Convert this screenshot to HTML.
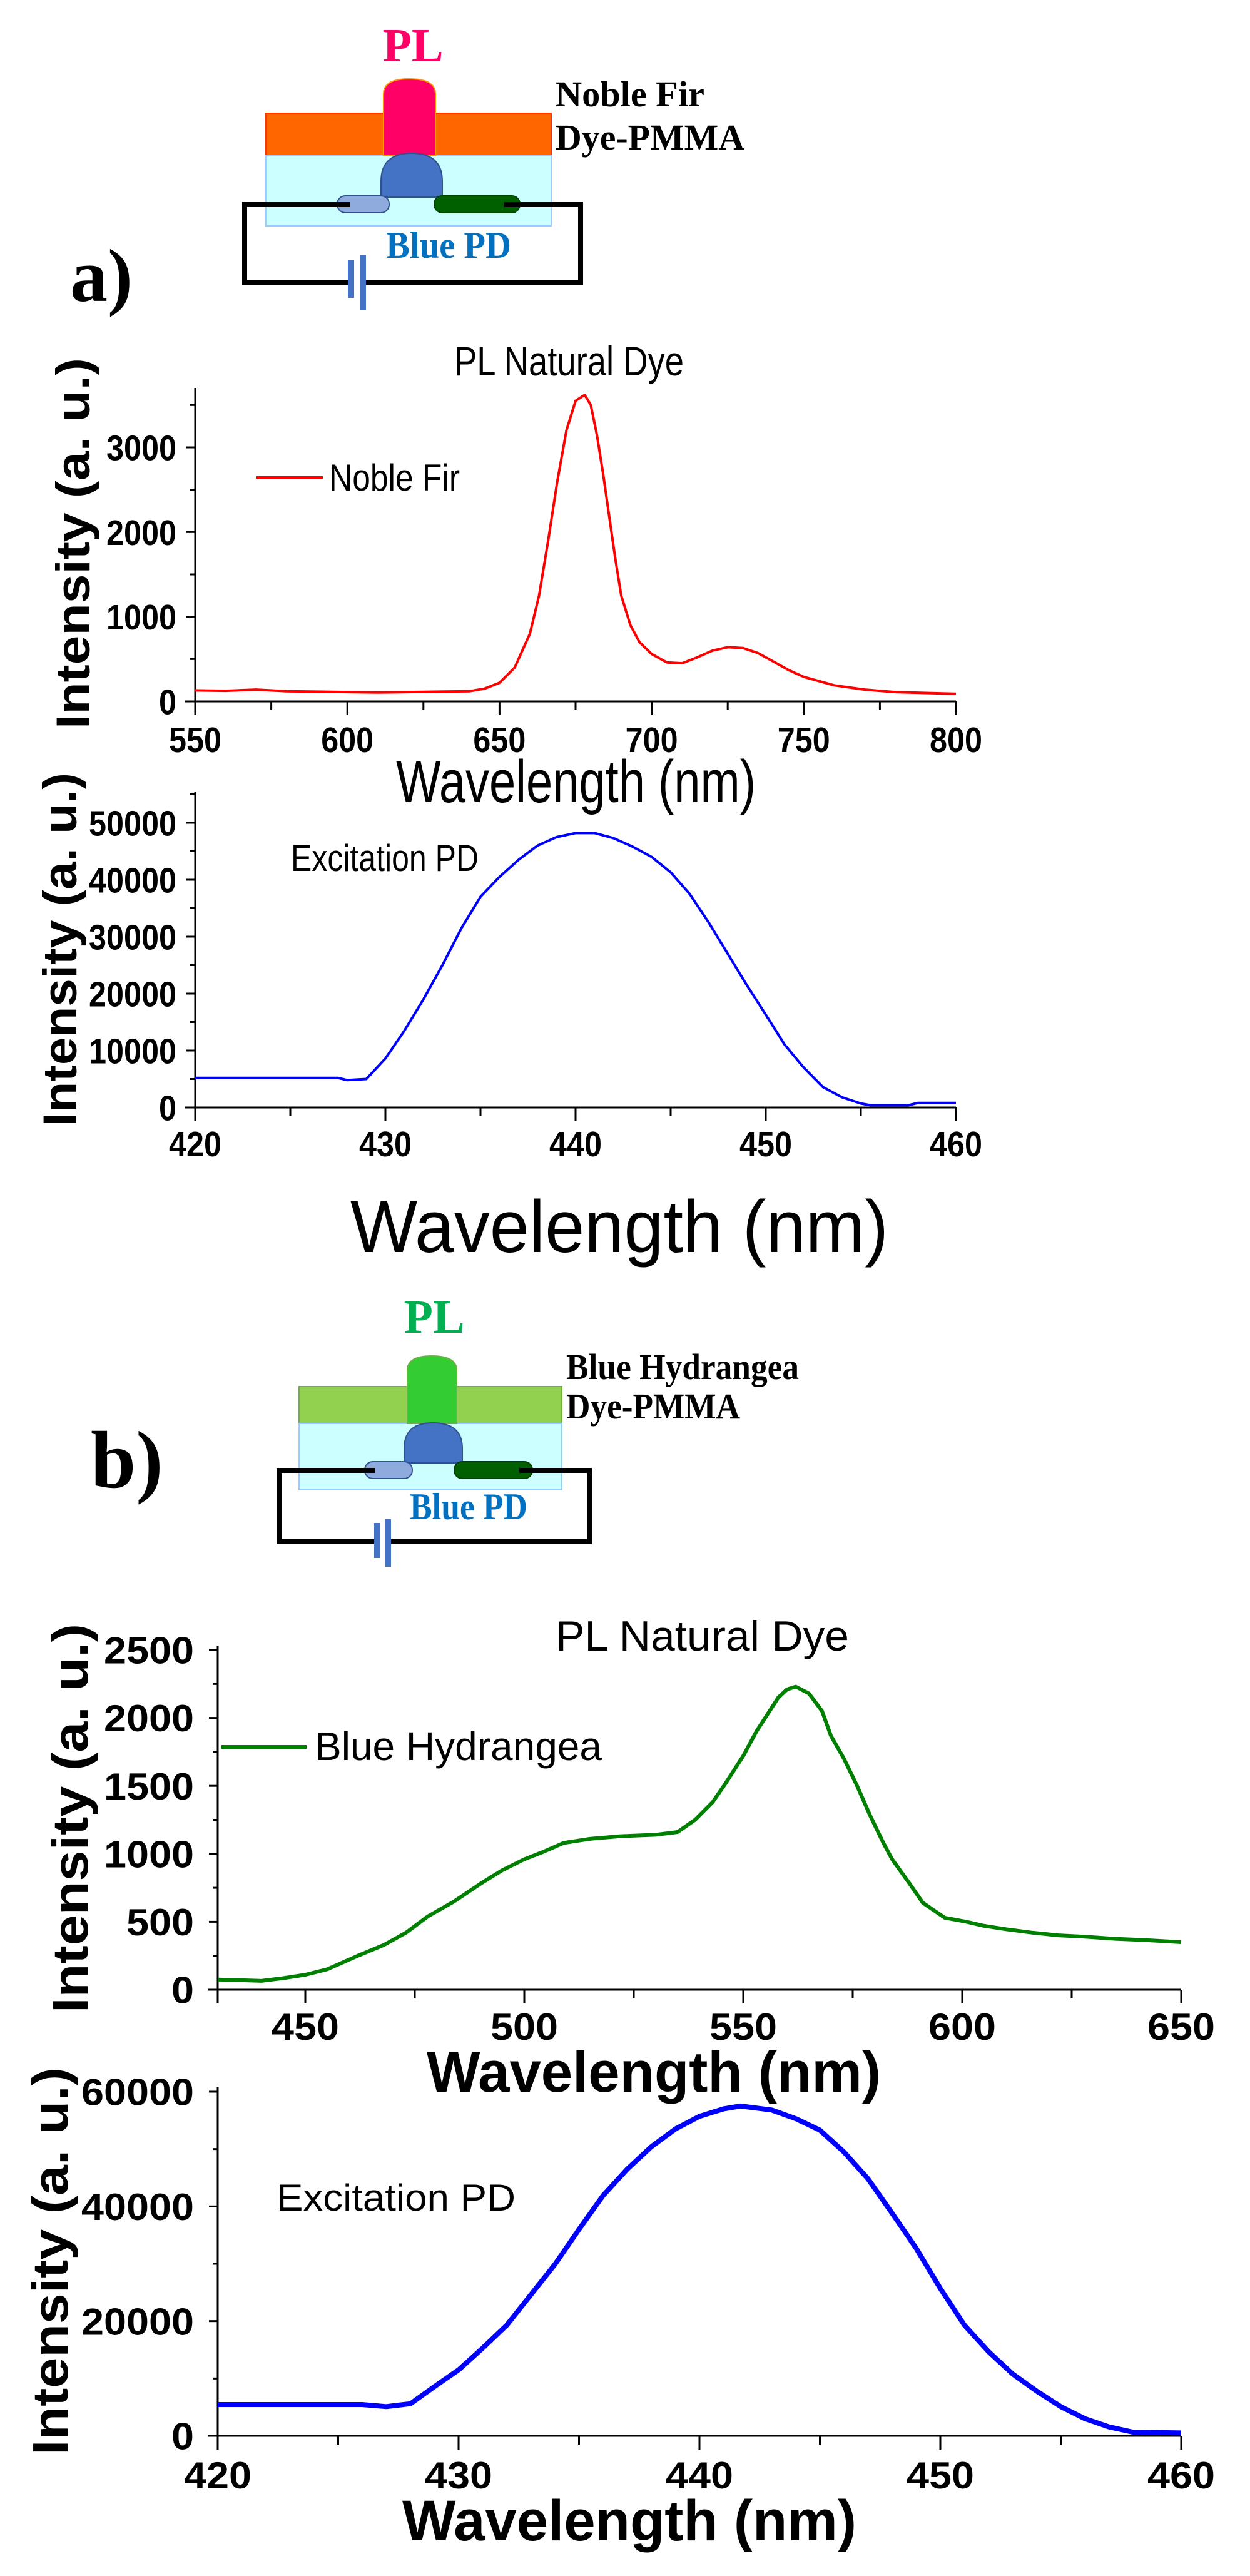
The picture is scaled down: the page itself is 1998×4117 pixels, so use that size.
<!DOCTYPE html>
<html><head><meta charset="utf-8"><style>
html,body{margin:0;padding:0;background:#fff;}
svg{display:block;}
text{font-family:"Liberation Sans",Arial,sans-serif;}
.tm{font-family:"Liberation Serif","Times New Roman",serif;font-weight:bold;}
</style></head><body>
<svg id="fig" width="1998" height="4117" viewBox="0 0 1998 4117" xmlns="http://www.w3.org/2000/svg">
<rect width="1998" height="4117" fill="#fff"/>
<g>
  <text class="tm" x="660" y="98" font-size="76" fill="#ff0066" text-anchor="middle">PL</text>
  <rect x="425" y="181" width="456" height="68" fill="#ff6600" stroke="#ff3300" stroke-width="2"/>
  <rect x="425" y="249" width="456" height="112" fill="#ccffff" stroke="#99ccff" stroke-width="2"/>
  <path d="M613 249 L613 150 Q613 126 654 126 Q696 126 696 150 L696 249 Z" fill="#ff0066" stroke="#ff9900" stroke-width="2"/>
  <path d="M609 315 L609 290 Q609 245 658 245 Q707 245 707 290 L707 315 Z" fill="#4472c4" stroke="#2f528f" stroke-width="2"/>
  <rect x="539" y="313" width="83" height="27" rx="13" fill="#8faadc" stroke="#2f528f" stroke-width="2"/>
  <rect x="694" y="313" width="137" height="27" rx="13" fill="#006000" stroke="#004000" stroke-width="2"/>
  <path d="M560 327 L391 327 L391 452 L928 452 L928 327 L805 327" fill="none" stroke="#000" stroke-width="8"/>
  <rect x="556" y="416" width="10" height="60" fill="#4472c4"/>
  <rect x="575" y="408" width="10" height="88" fill="#4472c4"/>
  <rect x="566" y="440" width="9" height="16" fill="#fff"/>
  <text class="tm" x="617" y="412" font-size="60" fill="#0070c0" textLength="200" lengthAdjust="spacingAndGlyphs">Blue PD</text>
  <text class="tm" x="888" y="170" font-size="58" fill="#000" textLength="238" lengthAdjust="spacingAndGlyphs">Noble Fir</text>
  <text class="tm" x="888" y="239" font-size="58" fill="#000" textLength="302" lengthAdjust="spacingAndGlyphs">Dye-PMMA</text>
  <text class="tm" x="112" y="481" font-size="120" fill="#000">a)</text>
</g>
<g>
  <text class="tm" x="694" y="2130" font-size="76" fill="#00b050" text-anchor="middle">PL</text>
  <rect x="478" y="2216" width="420" height="59" fill="#92d050" stroke="#70ad47" stroke-width="2"/>
  <rect x="478" y="2275" width="420" height="106" fill="#ccffff" stroke="#99ccff" stroke-width="2"/>
  <path d="M651 2275 L651 2190 Q651 2167 690 2167 Q730 2167 730 2190 L730 2275 Z" fill="#33cc33" stroke="#70ad47" stroke-width="2"/>
  <path d="M646 2338 L646 2315 Q646 2274 692 2274 Q739 2274 739 2315 L739 2338 Z" fill="#4472c4" stroke="#2f528f" stroke-width="2"/>
  <rect x="583" y="2336" width="76" height="27" rx="13" fill="#8faadc" stroke="#2f528f" stroke-width="2"/>
  <rect x="726" y="2336" width="125" height="27" rx="13" fill="#006000" stroke="#004000" stroke-width="2"/>
  <path d="M600 2350 L446 2350 L446 2464 L942 2464 L942 2350 L830 2350" fill="none" stroke="#000" stroke-width="8"/>
  <rect x="598" y="2434" width="10" height="56" fill="#4472c4"/>
  <rect x="615" y="2428" width="10" height="76" fill="#4472c4"/>
  <rect x="608" y="2452" width="7" height="16" fill="#fff"/>
  <text class="tm" x="655" y="2428" font-size="60" fill="#0070c0" textLength="188" lengthAdjust="spacingAndGlyphs">Blue PD</text>
  <text class="tm" x="905" y="2204" font-size="58" fill="#000" textLength="372" lengthAdjust="spacingAndGlyphs">Blue Hydrangea</text>
  <text class="tm" x="905" y="2267" font-size="58" fill="#000" textLength="278" lengthAdjust="spacingAndGlyphs">Dye-PMMA</text>
  <text class="tm" x="145" y="2377" font-size="130" fill="#000">b)</text>
</g>
<g id="charts"></g>
</svg>
<script>
const firWavelength = [550,560,570,580,590,600,610,620,630,640,645,650,655,660,663,666,669,672,675,678,680,682,684,686,688,690,693,696,700,705,710,715,720,725,730,735,740,745,750,760,770,780,790,800];
const firIntensity  = [130,125,140,120,115,110,105,110,115,120,150,220,400,800,1250,1900,2600,3200,3550,3620,3500,3150,2700,2200,1700,1250,900,700,560,460,450,520,600,640,630,570,470,370,290,190,140,110,100,90];
const c1XTicks = [550,600,650,700,750,800];
const c1YTicks = [0,1000,2000,3000];
const exAWavelength = [420,427.5,428,429,430,431,432,433,434,435,436,437,438,439,440,441,442,443,444,445,446,447,448,449,450,451,452,453,454,455,455.5,457.5,458,460];
const exAIntensity  = [5200,5200,4800,5000,8600,13500,19000,25000,31500,37000,40500,43500,46000,47500,48200,48200,47300,45800,44000,41300,37500,32500,27000,21500,16300,11000,7000,3600,1800,700,400,400,800,800];
const c2XTicks = [420,430,440,450,460];
const c2YTicks = [0,10000,20000,30000,40000,50000];
const hydWavelength = [430,435,440,445,450,455,462,468,473,478,484,490,495,500,504,509,515,522,530,535,539,543,546,550,553,556,558,560,562,565,568,570,573,576,579,582,584,588,591,596,601,605,610,616,622,628,635,642,650];
const hydIntensity  = [75,70,65,85,110,150,250,330,420,540,650,780,880,960,1010,1080,1110,1130,1140,1160,1250,1380,1520,1720,1900,2050,2150,2210,2230,2180,2050,1870,1700,1500,1280,1080,960,780,640,530,500,470,445,420,400,390,375,365,350];
const c3XTicks = [450,500,550,600,650];
const c3YTicks = [0,500,1000,1500,2000,2500];
const exBWavelength = [420,426,427,428,429,430,431,432,433,434,435,436,437,438,439,440,441,441.7,443,444,445,446,447,448,449,450,451,452,453,454,455,456,457,458,460];
const exBIntensity  = [5450,5450,5100,5600,8600,11500,15300,19300,24600,29900,36000,41900,46500,50400,53500,55700,57000,57500,56800,55300,53300,49500,44800,38800,32700,25700,19300,14700,10800,7800,5100,3000,1560,640,500];
const c4XTicks = [420,430,440,450,460];
const c4YTicks = [0,20000,40000,60000];

const NS = "http://www.w3.org/2000/svg";
const root = document.getElementById('charts');
function mk(tag, attrs, parent) {
  const e = document.createElementNS(NS, tag);
  for (const k in attrs) e.setAttribute(k, attrs[k]);
  (parent || root).appendChild(e);
  return e;
}
function drawChart(cfg, xs, ys, xt, yt) {
  const g = mk('g', {});
  
  
  const sx = v => cfg.x0 + (v - cfg.xmin) / (cfg.xmax - cfg.xmin) * (cfg.x1 - cfg.x0);
  const sy = v => cfg.y0 - (v - cfg.ymin) / (cfg.ymax - cfg.ymin) * (cfg.y0 - cfg.y1);
  const xa = mk('line', {x1: cfg.x0 - 16, y1: cfg.y0, x2: cfg.x1, y2: cfg.y0, stroke: '#000', 'stroke-width': 3}, g);
  
  
  const ya = mk('line', {x1: cfg.x0, y1: cfg.y0 + 22, x2: cfg.x0, y2: cfg.top, stroke: '#000', 'stroke-width': 3}, g);
  
  
  const dx = xt[1] - xt[0];
  for (let i = 0; i < xt.length; i++) {
    const v = xt[i], px = sx(v);
    mk('line', {x1: px, y1: cfg.y0, x2: px, y2: cfg.y0 + 22, stroke: '#000', 'stroke-width': 3}, g);
    if (i < xt.length - 1) {
      const pm = sx(v + dx / 2);
      mk('line', {x1: pm, y1: cfg.y0, x2: pm, y2: cfg.y0 + 14, stroke: '#000', 'stroke-width': 3}, g);
    }
    const t = mk('text', {x: px, y: cfg.xlabY, 'font-size': cfg.tfs, 'font-weight': 'bold', 'text-anchor': 'middle', textLength: String(v).length * cfg.cw, lengthAdjust: 'spacingAndGlyphs'}, g);
    t.textContent = v;
    
    
  }
  if (cfg.xmin < xt[0]) {
    const pm = sx(xt[0] - dx / 2);
    if (pm > cfg.x0) mk('line', {x1: pm, y1: cfg.y0, x2: pm, y2: cfg.y0 + 14, stroke: '#000', 'stroke-width': 3}, g);
  }
  const dy = yt[1] - yt[0];
  for (let i = 0; i < yt.length; i++) {
    const v = yt[i], py = sy(v);
    mk('line', {x1: cfg.x0 - 14, y1: py, x2: cfg.x0, y2: py, stroke: '#000', 'stroke-width': 3}, g);
    const pm = sy(v + dy / 2);
    if (pm > cfg.top) mk('line', {x1: cfg.x0 - 8, y1: pm, x2: cfg.x0, y2: pm, stroke: '#000', 'stroke-width': 3}, g);
    const t = mk('text', {x: cfg.ylabX, y: py + cfg.tfs * 0.36, 'font-size': cfg.tfs, 'font-weight': 'bold', 'text-anchor': 'end', textLength: String(v).length * cfg.cw, lengthAdjust: 'spacingAndGlyphs'}, g);
    t.textContent = v;
    
    
  }
  let d = '';
  for (let i = 0; i < xs.length; i++) d += (i ? 'L' : 'M') + sx(xs[i]).toFixed(1) + ' ' + sy(ys[i]).toFixed(1);
  const p = mk('path', {d: d, fill: 'none', stroke: cfg.color, 'stroke-width': cfg.lw, 'stroke-linejoin': 'round'}, g);
  
  
  return g;
}
function label(txt, attrs, name) {
  const t = mk('text', attrs);
  t.textContent = txt;
  
  
  return t;
}

drawChart({name:'pl-noble-fir-chart', x0:312, x1:1528, xmin:550, xmax:800, y0:1121, y1:715, ymin:0, ymax:3000, top:620,
  xlabY:1202, ylabX:282, tfs:57, cw:28, color:'#ff0000', lw:4, seriesName:'noble-fir-line'}, firWavelength, firIntensity, c1XTicks, c1YTicks);
drawChart({name:'excitation-pd-chart-a', x0:312, x1:1528, xmin:420, xmax:460, y0:1770, y1:1315, ymin:0, ymax:50000, top:1266,
  xlabY:1848, ylabX:282, tfs:57, cw:28, color:'#0000ff', lw:4, seriesName:'excitation-line-a'}, exAWavelength, exAIntensity, c2XTicks, c2YTicks);
drawChart({name:'pl-blue-hydrangea-chart', x0:348, x1:1888, xmin:430, xmax:650, y0:3180, y1:2637, ymin:0, ymax:2500, top:2630,
  xlabY:3260, ylabX:310, tfs:60, cw:36, color:'#008000', lw:6, seriesName:'blue-hydrangea-line'}, hydWavelength, hydIntensity, c3XTicks, c3YTicks);
drawChart({name:'excitation-pd-chart-b', x0:348, x1:1888, xmin:420, xmax:460, y0:3893, y1:3343, ymin:0, ymax:60000, top:3335,
  xlabY:3977, ylabX:310, tfs:60, cw:36, color:'#0000ff', lw:8, seriesName:'excitation-line-b'}, exBWavelength, exBIntensity, c4XTicks, c4YTicks);

label('PL Natural Dye', {x:726, y:600, 'font-size':66, textLength:367, lengthAdjust:'spacingAndGlyphs'}, 'chart-title-a');
label('Wavelength (nm)', {x:633, y:1282, 'font-size':96, textLength:575, lengthAdjust:'spacingAndGlyphs'}, 'x-axis-title-a');
label('Intensity  (a. u.)', {x:0, y:0, 'font-size':76, 'font-weight':'bold', textLength:593, lengthAdjust:'spacingAndGlyphs', transform:'translate(143,1165) rotate(-90)'}, 'y-axis-title-a');
mk('line', {x1:409, y1:763, x2:516, y2:763, stroke:'#ff0000', 'stroke-width':4});
label('Noble Fir', {x:526, y:784, 'font-size':60, textLength:209, lengthAdjust:'spacingAndGlyphs'}, 'legend-entry-noble-fir');

label('Excitation PD', {x:465, y:1392, 'font-size':60, textLength:300, lengthAdjust:'spacingAndGlyphs'}, 'series-label-excitation-a');
label('Intensity  (a. u.)', {x:0, y:0, 'font-size':76, 'font-weight':'bold', textLength:565, lengthAdjust:'spacingAndGlyphs', transform:'translate(122,1800) rotate(-90)'}, 'y-axis-title-a2');
label('Wavelength (nm)', {x:560, y:2001, 'font-size':118, textLength:860, lengthAdjust:'spacingAndGlyphs', 'font-family':'"DejaVu Sans Condensed","Liberation Sans",sans-serif'}, 'x-axis-title-a2');

label('PL Natural Dye', {x:888, y:2638, 'font-size':68, textLength:469, lengthAdjust:'spacingAndGlyphs'}, 'chart-title-b');
mk('line', {x1:354, y1:2792, x2:490, y2:2792, stroke:'#008000', 'stroke-width':6});
label('Blue Hydrangea', {x:503, y:2813, 'font-size':64, textLength:459, lengthAdjust:'spacingAndGlyphs'}, 'legend-entry-blue-hydrangea');
label('Intensity (a. u.)', {x:0, y:0, 'font-size':80, 'font-weight':'bold', textLength:622, lengthAdjust:'spacingAndGlyphs', transform:'translate(140,3217) rotate(-90)'}, 'y-axis-title-b');
label('Wavelength (nm)', {x:682, y:3343, 'font-size':92, 'font-weight':'bold', textLength:726, lengthAdjust:'spacingAndGlyphs'}, 'x-axis-title-b');

label('Excitation PD', {x:442, y:3533, 'font-size':60, textLength:382, lengthAdjust:'spacingAndGlyphs'}, 'series-label-excitation-b');
label('Intensity  (a. u.)', {x:0, y:0, 'font-size':80, 'font-weight':'bold', textLength:620, lengthAdjust:'spacingAndGlyphs', transform:'translate(108,3924) rotate(-90)'}, 'y-axis-title-b2');
label('Wavelength (nm)', {x:643, y:4060, 'font-size':92, 'font-weight':'bold', textLength:726, lengthAdjust:'spacingAndGlyphs'}, 'x-axis-title-b2');
</script>
</body></html>
